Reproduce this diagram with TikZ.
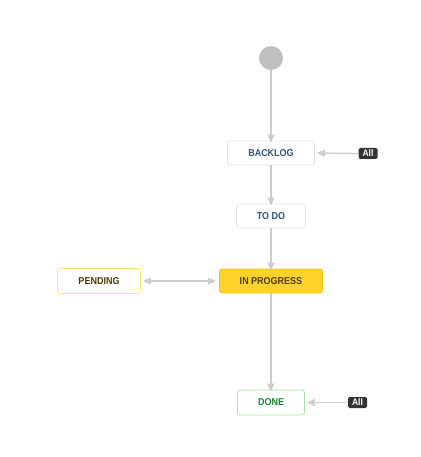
\documentclass[tikz,border=0pt]{standalone}
\usepackage{fontspec}
\setmainfont{Liberation Sans}
\newfontfamily\lblfont[FakeStretch=0.9]{Liberation Sans}
\usetikzlibrary{arrows.meta}
\definecolor{edgegrey}{HTML}{CCCCCC}
\definecolor{boxborder}{HTML}{DFE3EA}
\definecolor{bluetext}{HTML}{34527A}
\definecolor{progfill}{HTML}{FFD42A}
\definecolor{progborder}{HTML}{F5C518}
\definecolor{pendborder}{HTML}{FFE27A}
\definecolor{browntext}{HTML}{4A3A00}
\definecolor{donegreen}{HTML}{14892C}
\definecolor{doneborder}{HTML}{A8E0B0}
\definecolor{alldark}{HTML}{333333}
\tikzset{
  state/.style={draw=boxborder, line width=0.8pt, rounded corners=2.5pt, minimum height=24pt, font=\lblfont\fontsize{10}{11}\selectfont\bfseries, text=bluetext, inner sep=0pt},
  allbox/.style={fill=alldark, rounded corners=1.5pt, text=white, font=\lblfont\fontsize{9.5}{10}\selectfont\bfseries, inner sep=1pt, minimum width=19pt, minimum height=11pt},
  conn/.style={draw=edgegrey, line width=1.3pt, -{Triangle[length=8pt,width=7pt,fill=edgegrey]}},
  conn2/.style={draw=edgegrey, line width=1.3pt, {Triangle[length=8pt,width=7pt,fill=edgegrey]}-{Triangle[length=8pt,width=7pt,fill=edgegrey]}}
}
\begin{document}
\begin{tikzpicture}[x=1pt,y=-1pt]
\useasboundingbox (0,0) rectangle (420,457);
\node[circle, fill=black!25, minimum size=24pt, inner sep=0pt] (start) at (271,58) {};
\node[state, minimum width=87pt] (backlog) at (271,153) {BACKLOG};
\node[state, minimum width=69pt] (todo) at (271,216) {TO DO};
\node[state, minimum width=103pt, fill=progfill, draw=progborder, text=browntext] (prog) at (271,281) {IN PROGRESS};
\node[state, minimum width=83pt, draw=pendborder, text=browntext, minimum height=25pt] (pend) at (99,281) {PENDING};
\node[state, minimum width=67pt, draw=doneborder, text=donegreen, minimum height=25pt] (done) at (271,402.5) {DONE};
\node[allbox] (all1) at (368,153.5) {All};
\node[allbox] (all2) at (357.5,402.5) {All};
\draw[conn] (start) -- ([yshift=-2pt]backlog.north);
\draw[conn] (backlog) -- ([yshift=-2pt]todo.north);
\draw[conn] (todo) -- ([yshift=-2pt]prog.north);
\draw[conn] (prog) -- ([yshift=-2pt]done.north);
\draw[conn2] ([xshift=2pt]pend.east) -- ([xshift=-3pt]prog.west);
\draw[conn] (all1.west) -- ([xshift=2pt]backlog.east);
\draw[conn] (all2.west) -- ([xshift=2pt]done.east);
\end{tikzpicture}
\end{document}
